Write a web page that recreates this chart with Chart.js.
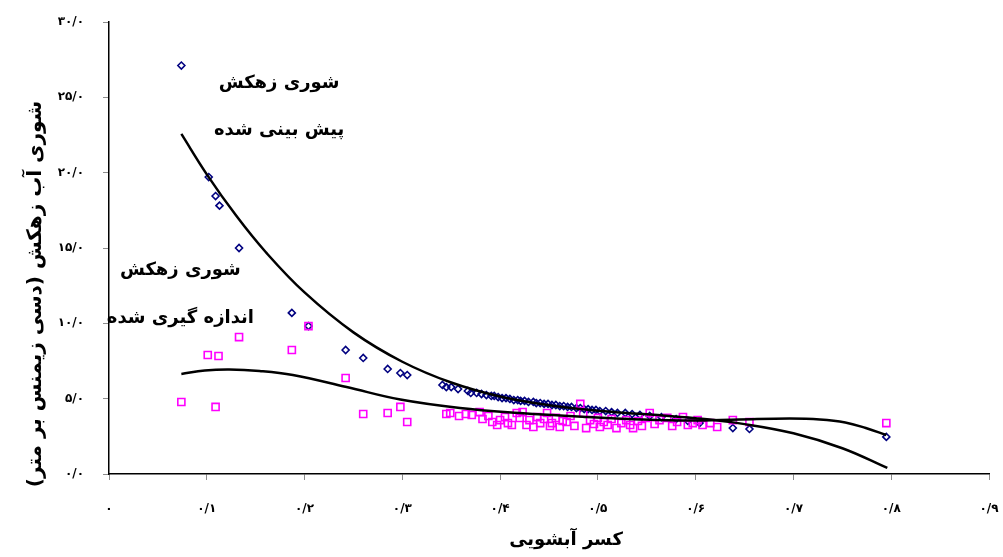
<!DOCTYPE html>
<html lang="fa">
<head>
<meta charset="utf-8">
<title>شوری زهکش</title>
<script src="https://cdn.jsdelivr.net/npm/chart.js@4.4.1/dist/chart.umd.min.js"></script>
<style>
  html, body { margin: 0; padding: 0; background: #fff; overflow: hidden; }
  #wrap { position: relative; width: 1003px; height: 557px; }
  #wrap canvas { display: block; }
</style>
</head>
<body>
<div id="wrap"><canvas id="chart"></canvas></div>
<script>
// شوری زهکش پیش بینی شده (لوزی آبی)
const predictedX = [0.074, 0.102, 0.109, 0.113, 0.133, 0.187, 0.204, 0.242, 0.260, 0.285, 0.298, 0.305,
  0.341, 0.345, 0.350, 0.357, 0.367, 0.370, 0.376, 0.381, 0.386, 0.391, 0.394, 0.398, 0.402, 0.406,
  0.410, 0.414, 0.418, 0.421, 0.425, 0.429, 0.434, 0.437, 0.441, 0.445, 0.449, 0.453, 0.457, 0.461,
  0.465, 0.469, 0.473, 0.478, 0.482, 0.486, 0.490, 0.494, 0.498, 0.502, 0.508, 0.514, 0.520, 0.528,
  0.535, 0.543, 0.553, 0.565, 0.580, 0.592, 0.604, 0.638, 0.655, 0.795];
const predictedY = [27.11, 19.71, 18.45, 17.81, 15.0, 10.69, 9.82, 8.23, 7.70, 6.97, 6.70, 6.57,
  5.91, 5.77, 5.77, 5.64, 5.51, 5.38, 5.38, 5.31, 5.24, 5.18, 5.18, 5.11, 5.04, 5.04,
  4.98, 4.91, 4.91, 4.85, 4.85, 4.78, 4.78, 4.71, 4.71, 4.65, 4.65, 4.58, 4.58, 4.51,
  4.51, 4.45, 4.45, 4.38, 4.38, 4.31, 4.31, 4.25, 4.25, 4.18, 4.18, 4.11, 4.05, 4.05,
  3.98, 3.92, 3.85, 3.78, 3.65, 3.52, 3.38, 3.05, 2.99, 2.46];

// شوری زهکش اندازه گیری شده (مربع صورتی)
const measuredX = [0.074, 0.101, 0.112, 0.109, 0.133, 0.187, 0.204, 0.242, 0.260, 0.285, 0.298, 0.305,
  0.345, 0.349, 0.358, 0.365, 0.371, 0.379, 0.382, 0.388, 0.392, 0.397, 0.400, 0.405, 0.408, 0.412,
  0.417, 0.420, 0.423, 0.427, 0.430, 0.434, 0.438, 0.441, 0.445, 0.448, 0.451, 0.453, 0.457, 0.461,
  0.464, 0.468, 0.472, 0.476, 0.482, 0.485, 0.488, 0.492, 0.496, 0.500, 0.502, 0.506, 0.510, 0.514,
  0.519, 0.524, 0.529, 0.533, 0.536, 0.541, 0.545, 0.549, 0.553, 0.558, 0.563, 0.571, 0.576, 0.581,
  0.587, 0.592, 0.597, 0.602, 0.607, 0.615, 0.622, 0.638, 0.655, 0.795];
const measuredY = [4.78, 7.90, 7.83, 4.45, 9.09, 8.23, 9.82, 6.37, 3.98, 4.05, 4.45, 3.45,
  3.98, 4.05, 3.85, 3.98, 3.92, 4.11, 3.65, 3.85, 3.45, 3.25, 3.58, 3.78, 3.38, 3.25,
  4.05, 3.72, 4.11, 3.25, 3.58, 3.12, 3.78, 3.38, 3.65, 4.05, 3.19, 3.38, 3.72, 3.12,
  3.52, 3.45, 3.85, 3.19, 4.65, 4.05, 3.05, 3.58, 3.32, 3.72, 3.12, 3.45, 3.25, 3.65,
  3.05, 3.38, 3.58, 3.25, 3.05, 3.52, 3.19, 3.72, 4.05, 3.32, 3.58, 3.72, 3.19, 3.45,
  3.78, 3.25, 3.38, 3.58, 3.25, 3.38, 3.12, 3.58, 3.45, 3.38];

// خطوط روند (خوانده شده از نمودار)
const predictedTrendX = [0.074, 0.10, 0.13, 0.16, 0.20, 0.25, 0.30, 0.35, 0.40, 0.45, 0.50, 0.55, 0.60, 0.65, 0.70, 0.75, 0.796];
const predictedTrendY = [22.57, 19.89, 17.15, 14.75, 12.05, 9.40, 7.45, 6.07, 5.14, 4.56, 4.20, 3.96, 3.70, 3.31, 2.70, 1.71, 0.40];
const measuredTrendX = [0.074, 0.098, 0.123, 0.154, 0.188, 0.243, 0.298, 0.359, 0.420, 0.489, 0.543, 0.594, 0.645, 0.696, 0.727, 0.753, 0.774, 0.795];
const measuredTrendY = [6.64, 6.87, 6.94, 6.84, 6.57, 5.77, 4.94, 4.38, 4.05, 3.78, 3.62, 3.55, 3.62, 3.68, 3.62, 3.42, 3.05, 2.59];

const xTickLabels = ['۰', '۰/۱', '۰/۲', '۰/۳', '۰/۴', '۰/۵', '۰/۶', '۰/۷', '۰/۸', '۰/۹'];
const yTickLabels = ['۰/۰', '۵/۰', '۱۰/۰', '۱۵/۰', '۲۰/۰', '۲۵/۰', '۳۰/۰'];

const xTitle = 'کسر آبشویی';
const yTitle = 'شوری آب زهکش (دسی زیمنس بر متر)';

const notes = [
  { text: 'شوری زهکش', x: 0.174, y: 25.95 },
  { text: 'پیش بینی شده', x: 0.174, y: 22.83 },
  { text: 'شوری زهکش', x: 0.073, y: 13.54 },
  { text: 'اندازه گیری شده', x: 0.073, y: 10.35 },
];

const toPoints = (xs, ys) => xs.map((x, i) => ({ x: x, y: ys[i] }));
const persianFont = '"DejaVu Sans", sans-serif';

// متن ها و عنوان محورها راست به چپ کشیده می شوند
const persianText = {
  id: 'persianText',
  afterDraw(chart) {
    const { ctx, scales } = chart;
    ctx.save();
    ctx.direction = 'rtl';
    ctx.fillStyle = '#000';
    ctx.textAlign = 'center';
    ctx.textBaseline = 'middle';
    ctx.font = 'bold 18px ' + persianFont;
    notes.forEach((n) => {
      ctx.fillText(n.text, scales.x.getPixelForValue(n.x), scales.y.getPixelForValue(n.y));
    });
    ctx.fillText(xTitle, 566, 540);
    ctx.translate(36, 294);
    ctx.rotate(-Math.PI / 2);
    ctx.font = 'bold 20px ' + persianFont;
    ctx.fillText(yTitle, 0, 0);
    ctx.restore();
  },
};

const axisGrid = {
  drawOnChartArea: false,
  drawTicks: true,
  tickLength: 6,
  color: '#8c8c8c',
  lineWidth: 1,
};

new Chart(document.getElementById('chart'), {
  type: 'scatter',
  data: {
    datasets: [
      {
        label: 'trend predicted',
        data: toPoints(predictedTrendX, predictedTrendY),
        showLine: true,
        borderColor: '#000',
        borderWidth: 2.5,
        pointRadius: 0,
        tension: 0.4,
      },
      {
        label: 'trend measured',
        data: toPoints(measuredTrendX, measuredTrendY),
        showLine: true,
        borderColor: '#000',
        borderWidth: 2.5,
        pointRadius: 0,
        tension: 0.4,
      },
      {
        label: 'measured',
        data: toPoints(measuredX, measuredY),
        pointStyle: 'rect',
        pointRadius: 5,
        borderColor: '#ff00ff',
        backgroundColor: 'rgba(0,0,0,0)',
        pointBorderWidth: 1.6,
      },
      {
        label: 'predicted',
        data: toPoints(predictedX, predictedY),
        pointStyle: 'rectRot',
        pointRadius: 3.5,
        borderColor: '#000080',
        backgroundColor: 'rgba(0,0,0,0)',
        pointBorderWidth: 1.6,
      },
    ],
  },
  options: {
    responsive: true,
    maintainAspectRatio: false,
    animation: false,
    layout: { autoPadding: false, padding: { top: 22, right: 14, left: 0, bottom: 0 } },
    plugins: {
      legend: { display: false },
      tooltip: { enabled: false },
    },
    scales: {
      x: {
        type: 'linear',
        min: 0,
        max: 0.9,
        afterFit: (scale) => {
          scale.height = 83;
          scale.paddingLeft = 0;
          scale.paddingRight = 0;
        },
        afterBuildTicks: (scale) => {
          scale.ticks = xTickLabels.map((_, i) => ({ value: i / 10 }));
        },
        ticks: {
          padding: 22,
          color: '#000',
          font: { family: persianFont, size: 12, weight: 'bold' },
          callback: (value, index) => xTickLabels[index],
        },
        grid: axisGrid,
        border: { color: '#000', width: 1.5 },
      },
      y: {
        type: 'linear',
        min: 0,
        max: 30,
        afterFit: (scale) => {
          scale.width = 109;
          scale.paddingTop = 0;
          scale.paddingBottom = 0;
        },
        ticks: {
          stepSize: 5,
          padding: 19,
          color: '#000',
          font: { family: persianFont, size: 12, weight: 'bold' },
          callback: (value, index) => yTickLabels[index],
        },
        grid: axisGrid,
        border: { color: '#000', width: 1.5 },
      },
    },
  },
  plugins: [persianText],
});
</script>
</body>
</html>
